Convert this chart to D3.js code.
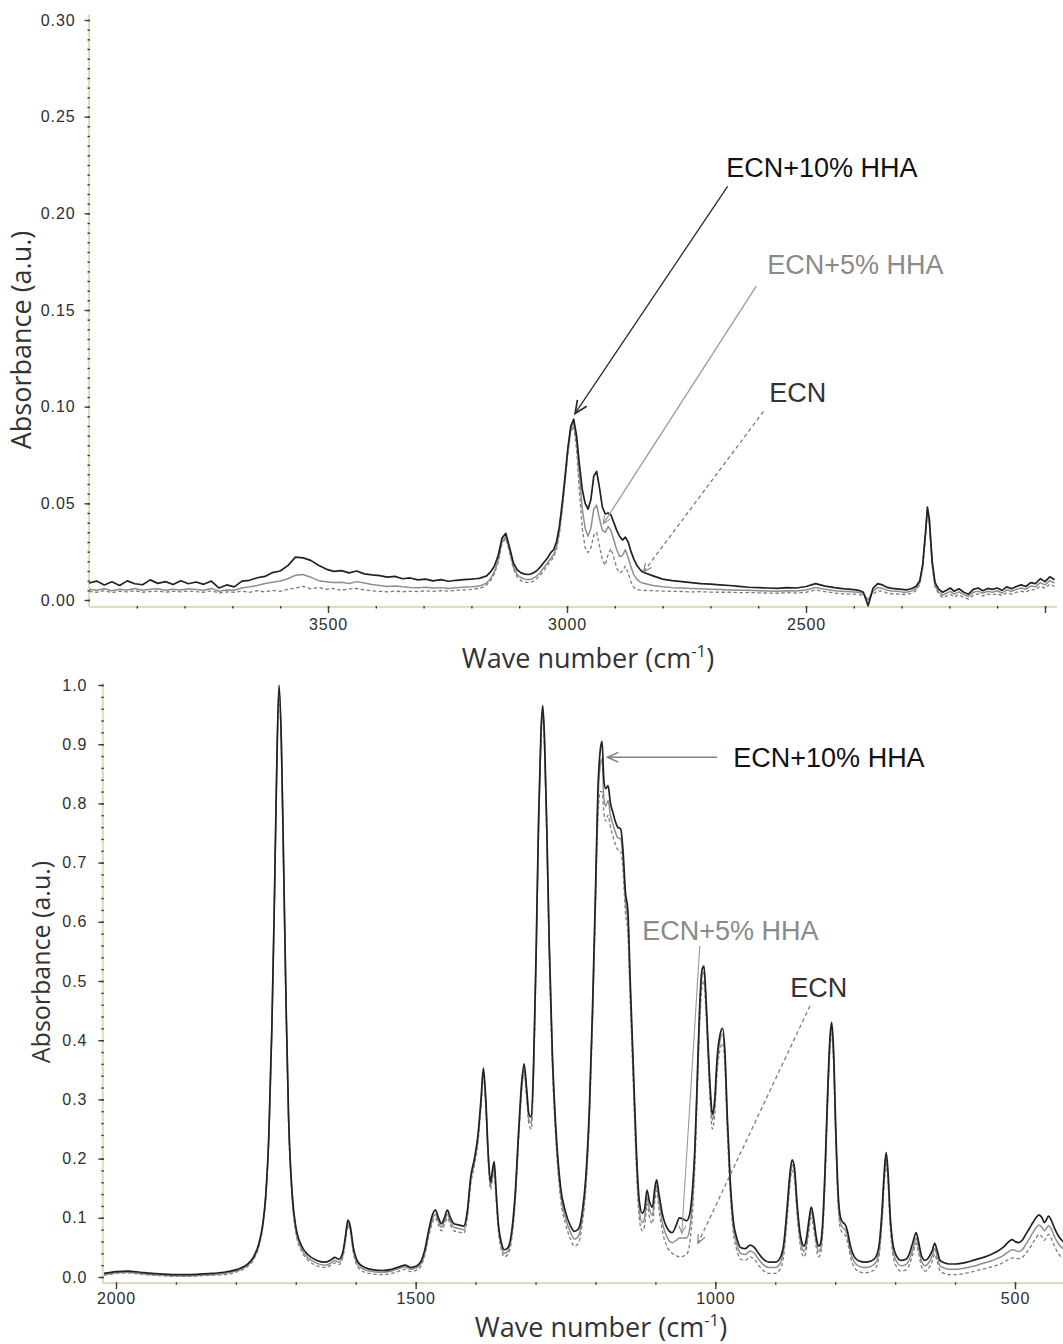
<!DOCTYPE html>
<html>
<head>
<meta charset="utf-8">
<script src="https://cdn.jsdelivr.net/npm/d3@7"></script>
<style>
  html, body { margin: 0; padding: 0; background: #fff; }
  svg { display: block; }
</style>
</head>
<body>
<svg id="chart" width="1063" height="1344"></svg>
<script>
// ---------------------------------------------------------------
// FTIR absorbance spectra: ECN, ECN+5% HHA, ECN+10% HHA
// ---------------------------------------------------------------
const seriesNames = ["ECN+10% HHA", "ECN+5% HHA", "ECN"];

// ---- upper panel: 4000–2000 cm-1 ----
const topWn = [
  4000, 3984, 3968, 3952, 3936, 3920, 3904, 3888, 3872, 3856,
  3840, 3824, 3808, 3792, 3776, 3760, 3744, 3728, 3712, 3696,
  3680, 3664, 3648, 3632, 3616, 3600, 3584, 3568, 3552, 3536,
  3520, 3504, 3488, 3472, 3456, 3440, 3424, 3408, 3392, 3376,
  3360, 3344, 3328, 3312, 3296, 3280, 3264, 3248, 3232, 3216,
  3200,
  3192, 3184, 3176, 3168, 3160, 3152, 3144, 3136, 3128, 3120,
  3112, 3104, 3096, 3088, 3080, 3072, 3064, 3056, 3048, 3040,
  3034, 3028, 3022, 3016, 3010, 3004, 2998, 2992, 2986, 2980,
  2974, 2968, 2962, 2956, 2950, 2944, 2938, 2932, 2926, 2920,
  2914, 2908, 2902, 2896, 2890, 2884, 2878, 2872, 2866, 2860,
  2854, 2848, 2842,
  2820, 2800, 2780, 2760, 2740, 2720, 2700, 2680, 2660, 2640,
  2620, 2600, 2580, 2560, 2540, 2520, 2500, 2480, 2460, 2440,
  2420,
  2410, 2400, 2390, 2380, 2370, 2360, 2350, 2340, 2330, 2320,
  2310, 2300, 2290, 2280, 2270, 2262, 2256, 2250, 2246, 2242,
  2236, 2230, 2222, 2214, 2206, 2198, 2190, 2180, 2170, 2160,
  2150, 2140, 2130, 2120, 2110, 2100, 2090, 2080, 2070, 2060,
  2050, 2040, 2030, 2020, 2010, 2000, 1990, 1980
];

const topEcn10 = [
  .0088, .0098, .0078, .0094, .0075, .0099, .0084, .0079, .0104, .0086,
  .0095, .0080, .0100, .0084, .0093, .0081, .0098, .0062, .0078, .0068,
  .0098, .0102, .0115, .0122, .0142, .0150, .0178, .0222, .0218, .0205,
  .0180, .0160, .0148, .0152, .0140, .0150, .0135, .0130, .0126, .0118,
  .0122, .0110, .0114, .0104, .0108, .0099, .0105, .0097, .0102, .0105,
  .0108,
  .0110, .0112, .0118, .0125, .0145, .0175, .0230, .0320, .0345, .0270,
  .0190, .0155, .0140, .0134, .0132, .0138, .0150, .0170, .0195, .0220,
  .0245, .0260, .0300, .0380, .0500, .0640, .0790, .0900, .0935, .0850,
  .0700, .0570, .0500, .0470, .0520, .0640, .0665, .0580, .0480, .0445,
  .0450, .0440, .0400, .0360, .0330, .0310, .0325, .0300, .0250, .0210,
  .0180, .0160, .0145,
  .0125, .0108, .0100, .0095, .0090, .0085, .0082, .0078, .0075, .0070,
  .0066, .0064, .0062, .0060, .0064, .0062, .0070, .0085, .0072, .0064,
  .0058,
  .0056, .0054, .0050, .0040, -.0030, .0060, .0085, .0078, .0065, .0060,
  .0058, .0055, .0052, .0058, .0070, .0100, .0180, .0350, .0480, .0420,
  .0200, .0090, .0055, .0040, .0050, .0062, .0045, .0058, .0040, .0030,
  .0055, .0062, .0048, .0060, .0055, .0062, .0050, .0068, .0058, .0070,
  .0078, .0070, .0090, .0085, .0110, .0095, .0120, .0105
];

const topEcn5 = [
  .0055, .0050, .0058, .0048, .0056, .0052, .0060, .0050, .0055, .0058,
  .0050, .0056, .0052, .0058, .0054, .0050, .0060, .0045, .0052, .0050,
  .0062, .0068, .0075, .0085, .0092, .0098, .0110, .0128, .0132, .0118,
  .0100, .0095, .0090, .0092, .0085, .0095, .0088, .0080, .0075, .0070,
  .0072, .0068, .0065, .0064, .0066, .0062, .0064, .0060, .0063, .0066,
  .0068,
  .0070, .0072, .0078, .0088, .0110, .0145, .0205, .0300, .0330, .0255,
  .0170, .0130, .0115, .0108, .0105, .0110, .0122, .0142, .0168, .0195,
  .0215, .0235, .0275, .0355, .0480, .0625, .0775, .0885, .0920, .0820,
  .0640, .0470, .0370, .0330, .0370, .0470, .0490, .0420, .0360, .0350,
  .0380, .0360, .0310, .0260, .0225, .0230, .0260, .0220, .0170, .0130,
  .0108, .0095, .0088,
  .0075, .0068, .0064, .0062, .0060, .0058, .0056, .0054, .0052, .0050,
  .0050, .0048, .0046, .0045, .0048, .0047, .0052, .0065, .0055, .0048,
  .0044,
  .0044, .0042, .0040, .0032, .0000, .0045, .0065, .0060, .0050, .0046,
  .0045, .0042, .0040, .0046, .0058, .0090, .0170, .0340, .0465, .0405,
  .0185, .0075, .0040, .0025, .0035, .0045, .0030, .0042, .0028, .0018,
  .0040, .0046, .0035, .0045, .0040, .0048, .0036, .0052, .0045, .0055,
  .0062, .0056, .0072, .0068, .0090, .0078, .0100, .0088
];

const topEcn = [
  .0045, .0040, .0048, .0038, .0046, .0042, .0048, .0040, .0044, .0046,
  .0040, .0045, .0042, .0047, .0043, .0040, .0048, .0036, .0042, .0040,
  .0045, .0040, .0048, .0042, .0050, .0045, .0055, .0062, .0070, .0058,
  .0065, .0055, .0060, .0050, .0058, .0060, .0052, .0048, .0045, .0042,
  .0046, .0043, .0045, .0044, .0047, .0045, .0048, .0046, .0050, .0052,
  .0055,
  .0058, .0060, .0066, .0078, .0100, .0135, .0195, .0290, .0318, .0245,
  .0160, .0118, .0100, .0092, .0090, .0095, .0108, .0128, .0155, .0182,
  .0200, .0222, .0262, .0340, .0465, .0610, .0760, .0870, .0900, .0780,
  .0560, .0370, .0270, .0245, .0270, .0335, .0350, .0280, .0205, .0180,
  .0235, .0265, .0220, .0165, .0140, .0150, .0175, .0140, .0090, .0065,
  .0055, .0052, .0050,
  .0048, .0046, .0045, .0044, .0042, .0043, .0041, .0040, .0040, .0038,
  .0039, .0037, .0036, .0035, .0038, .0036, .0040, .0052, .0043, .0036,
  .0032,
  .0030, .0030, .0028, .0022, .0005, .0030, .0048, .0045, .0036, .0032,
  .0031, .0030, .0028, .0034, .0048, .0080, .0160, .0330, .0455, .0395,
  .0175, .0065, .0030, .0012, .0020, .0030, .0015, .0028, .0012, .0005,
  .0025, .0032, .0020, .0030, .0026, .0034, .0022, .0038, .0030, .0040,
  .0046, .0040, .0056, .0052, .0072, .0060, .0082, .0070
];

const topXTicks = [3500, 3000, 2500, 2000];
const topYTicks = [0, 0.05, 0.10, 0.15, 0.20, 0.25, 0.30];

// ---- lower panel: 2000–400 cm-1 ----
const bottomWn = [
  2020, 2000, 1980, 1960, 1940, 1920, 1900, 1880, 1860, 1840,
  1820, 1800, 1790, 1780, 1770, 1762, 1755, 1750, 1745, 1740,
  1736, 1732, 1728, 1724, 1720, 1716, 1712, 1706, 1700, 1690,
  1680, 1665, 1650, 1640, 1635, 1628, 1622, 1617, 1613, 1609,
  1604, 1596, 1585, 1570, 1555, 1540, 1525, 1518, 1508, 1500,
  1492, 1485, 1478, 1472, 1467, 1462, 1457, 1452, 1447, 1442,
  1436, 1428, 1420, 1414, 1408, 1402, 1396, 1391, 1387, 1383,
  1379, 1375, 1372, 1369, 1366, 1362, 1357, 1352, 1346, 1340,
  1334, 1328, 1323, 1319, 1315, 1311, 1307, 1303, 1299, 1295,
  1291, 1288, 1285, 1281, 1277, 1272, 1266, 1258, 1250, 1242,
  1235, 1228, 1222, 1216, 1210, 1205, 1200, 1196, 1192, 1189,
  1186, 1183, 1179, 1175, 1171, 1167, 1163, 1158, 1154, 1150,
  1146, 1142, 1137, 1132, 1127, 1122, 1118, 1114, 1110, 1105,
  1101, 1098, 1094, 1088, 1080, 1072, 1065, 1060, 1054, 1048,
  1043, 1038, 1034, 1030, 1026, 1022, 1019, 1016, 1012, 1008,
  1005, 1001,  997,  992,  988,  984,  980,  975,  970,  964,
   958,  950,  942,  935,  928,  920,  910,  900,  892,  886,
   880,  876,  872,  868,  864,  860,  856,  852,  848,  844,
   840,  836,  832,  828,  825,  821,  817,  813,  809,  806,
   803,  799,  795,  791,  787,  783,  779,  774,  768,  760,
   750,  740,  732,  726,  722,  718,  715,  712,  708,  704,
   698,  690,  682,  676,  670,  665,  661,  656,  650,  644,
   638,  634,  630,  625,  618,  610,  600,  590,  580,  570,
   560,  550,  540,  530,  520,  512,  505,  500,  494,  488,
   482,  476,  470,  465,  460,  455,  451,  447,  444,  440,
   434,  428,  420,  412
];

const bottomEcn10 = [
  .006, .009, .010, .008, .006, .005, .004, .004, .005, .006,
  .008, .012, .016, .022, .035, .055, .090, .140, .240, .420,
  .620, .850, 1.00, .900, .680, .450, .270, .140, .085, .052,
  .038, .028, .025, .030, .033, .030, .040, .070, .096, .085,
  .050, .025, .016, .012, .011, .013, .018, .020, .016, .018,
  .025, .045, .080, .105, .113, .100, .090, .100, .113, .100,
  .090, .088, .086, .110, .170, .200, .240, .300, .353, .300,
  .210, .160, .180, .195, .150, .090, .058, .046, .050, .075,
  .140, .250, .330, .360, .320, .275, .270, .370, .550, .770,
  .920, .965, .910, .750, .560, .380, .250, .150, .110, .087,
  .077, .082, .110, .170, .290, .450, .650, .820, .890, .905,
  .840, .825, .830, .800, .785, .770, .760, .757, .720, .650,
  .620, .500, .360, .220, .130, .108, .115, .147, .128, .118,
  .150, .164, .140, .105, .082, .075, .088, .100, .098, .095,
  .105, .150, .220, .340, .460, .520, .525, .480, .390, .310,
  .275, .300, .370, .410, .420, .380, .270, .160, .095, .065,
  .050, .048, .054, .050, .040, .030, .025, .025, .032, .055,
  .120, .170, .198, .185, .130, .085, .060, .052, .065, .095,
  .118, .100, .070, .052, .055, .090, .180, .300, .400, .430,
  .390, .250, .140, .100, .092, .088, .075, .050, .034, .027,
  .025, .027, .034, .060, .110, .180, .210, .180, .100, .058,
  .036, .028, .030, .040, .060, .075, .060, .036, .028, .033,
  .045, .057, .045, .028, .024, .022, .022, .023, .025, .028,
  .031, .034, .038, .043, .050, .058, .063, .060, .058, .062,
  .072, .082, .092, .100, .105, .100, .092, .098, .103, .097,
  .082, .070, .060, .055
];

const bottomEcn5 = [
  .004, .007, .008, .006, .004, .003, .002, .002, .003, .004,
  .006, .010, .014, .020, .032, .052, .087, .137, .237, .417,
  .617, .847, .995, .895, .675, .445, .265, .135, .080, .047,
  .033, .023, .020, .025, .028, .025, .035, .065, .091, .080,
  .045, .020, .012, .009, .008, .010, .015, .017, .013, .015,
  .021, .040, .074, .098, .106, .094, .084, .094, .106, .094,
  .084, .082, .080, .104, .164, .194, .234, .294, .344, .294,
  .204, .154, .172, .187, .142, .083, .052, .040, .044, .068,
  .132, .242, .322, .352, .312, .266, .260, .360, .540, .760,
  .910, .960, .900, .740, .550, .370, .240, .140, .100, .076,
  .064, .070, .100, .160, .280, .440, .640, .800, .865, .875,
  .810, .795, .805, .780, .765, .752, .742, .740, .705, .635,
  .600, .485, .345, .205, .115, .092, .100, .135, .115, .104,
  .140, .155, .128, .090, .066, .058, .062, .066, .066, .066,
  .080, .130, .210, .330, .450, .510, .515, .470, .380, .300,
  .265, .290, .360, .400, .410, .370, .260, .150, .085, .055,
  .040, .038, .044, .040, .030, .021, .016, .016, .023, .046,
  .110, .160, .190, .176, .120, .076, .051, .043, .056, .086,
  .110, .092, .062, .043, .046, .081, .170, .290, .390, .420,
  .380, .240, .130, .090, .083, .079, .066, .041, .025, .018,
  .016, .018, .025, .051, .100, .170, .200, .170, .090, .049,
  .027, .019, .021, .030, .049, .066, .050, .027, .019, .024,
  .036, .048, .036, .019, .015, .013, .013, .014, .016, .018,
  .021, .024, .027, .031, .036, .042, .046, .045, .043, .046,
  .055, .065, .075, .083, .088, .084, .078, .083, .087, .082,
  .068, .057, .048, .044
];

const bottomEcn = [
  .003, .006, .007, .005, .003, .002, .001, .001, .002, .003,
  .004, .008, .012, .018, .030, .050, .085, .135, .235, .415,
  .615, .845, .990, .890, .670, .440, .260, .130, .075, .043,
  .029, .019, .016, .021, .024, .021, .031, .061, .087, .076,
  .041, .016, .008, .005, .004, .006, .011, .013, .009, .011,
  .017, .036, .069, .092, .100, .088, .078, .088, .100, .088,
  .078, .076, .074, .098, .158, .188, .228, .288, .338, .288,
  .198, .148, .165, .180, .135, .077, .046, .034, .038, .062,
  .125, .235, .315, .345, .305, .258, .250, .350, .530, .750,
  .900, .955, .890, .730, .540, .360, .230, .130, .090, .065,
  .052, .058, .090, .150, .270, .430, .620, .770, .820, .820,
  .785, .770, .780, .760, .745, .732, .722, .720, .685, .615,
  .580, .465, .330, .190, .100, .078, .086, .124, .102, .090,
  .128, .146, .114, .076, .050, .040, .036, .034, .035, .038,
  .055, .110, .190, .310, .430, .490, .500, .455, .365, .285,
  .250, .275, .345, .385, .395, .355, .245, .140, .075, .045,
  .030, .028, .034, .030, .020, .011, .006, .006, .013, .036,
  .100, .150, .180, .167, .110, .067, .042, .034, .047, .077,
  .100, .083, .053, .034, .037, .072, .160, .280, .380, .410,
  .370, .230, .120, .080, .074, .070, .057, .032, .016, .009,
  .007, .009, .016, .042, .090, .160, .190, .160, .080, .040,
  .018, .010, .012, .021, .040, .057, .041, .018, .010, .015,
  .027, .039, .027, .010, .006, .004, .004, .005, .007, .009,
  .012, .014, .017, .020, .024, .029, .032, .032, .031, .033,
  .040, .048, .058, .066, .072, .068, .062, .068, .072, .066,
  .052, .040, .032, .028
];

const bottomXTicks = [2000, 1500, 1000, 500];
const bottomYTicks = [0, 0.1, 0.2, 0.3, 0.4, 0.5, 0.6, 0.7, 0.8, 0.9, 1.0];

// ---------------------------------------------------------------
// drawing
// ---------------------------------------------------------------
const svg = d3.select("#chart");
const defs = svg.append("defs");

const TICK_FONT = "'Liberation Sans', Arial, sans-serif";
const TITLE_FONT = "'Open Sans', 'Noto Sans', sans-serif";
const LABEL_FONT = "'Liberation Sans', Arial, sans-serif";
const AXIS_LINE = "#e1ddc2";
const TICK_COLOR = "#3c3c3c";

const seriesStyle = [
  { color: "#222222", width: 1.7, dash: null },       // ECN+10% HHA
  { color: "#8e8e8e", width: 1.5, dash: null },       // ECN+5% HHA
  { color: "#7c7c7c", width: 1.3, dash: "3.5,2.5" }   // ECN
];

function arrowMarker(id, color, size) {
  defs.append("marker")
    .attr("id", id)
    .attr("viewBox", "0 0 12 12")
    .attr("refX", 11).attr("refY", 6)
    .attr("markerWidth", size).attr("markerHeight", size)
    .attr("markerUnits", "userSpaceOnUse")
    .attr("orient", "auto")
    .append("path")
    .attr("d", "M1,1.5 L11,6 L1,10.5")
    .attr("fill", "none")
    .attr("stroke", color)
    .attr("stroke-width", 1.4);
}
arrowMarker("head-dark", "#2a2a2a", 15);
arrowMarker("head-grey", "#808080", 13);
arrowMarker("head-grey-small", "#8e8e8e", 9);
arrowMarker("head-dash-small", "#7c7c7c", 10);

function drawPanel(p) {
  const g = svg.append("g");
  const { x, y } = p;
  const axisY = y(p.yLo);
  const axisX = x(p.xLo);

  // axis lines
  g.append("line")
    .attr("x1", axisX).attr("x2", x(p.xHi))
    .attr("y1", axisY).attr("y2", axisY)
    .attr("stroke", AXIS_LINE).attr("stroke-width", 2.2);
  g.append("line")
    .attr("x1", axisX).attr("x2", axisX)
    .attr("y1", y(p.yHi)).attr("y2", axisY)
    .attr("stroke", AXIS_LINE).attr("stroke-width", 2.2);

  // x ticks
  const xMinor = g.append("g")
    .attr("transform", `translate(0,${axisY - 1})`)
    .call(d3.axisBottom(x).tickValues(p.xMinor).tickSize(2.5).tickFormat(""));
  const xMajor = g.append("g")
    .attr("transform", `translate(0,${axisY - 1})`)
    .call(d3.axisBottom(x).tickValues(p.xTicks).tickSize(7)
      .tickPadding(p.xPad).tickFormat(p.xFormat));
  // y ticks
  const yMinor = g.append("g")
    .attr("transform", `translate(${axisX + 1},0)`)
    .call(d3.axisLeft(y).tickValues(p.yMinor).tickSize(2.5).tickFormat(""));
  const yMajor = g.append("g")
    .attr("transform", `translate(${axisX + 1},0)`)
    .call(d3.axisLeft(y).tickValues(p.yTicks).tickSize(5.5)
      .tickPadding(p.yPad).tickFormat(p.yFormat));

  [xMinor, xMajor, yMinor, yMajor].forEach(a => {
    a.select(".domain").remove();
    a.selectAll(".tick line").attr("stroke", TICK_COLOR).attr("stroke-width", 1.4);
    a.selectAll(".tick text")
      .attr("fill", "#2e2e2e")
      .style("font-family", TICK_FONT)
      .style("font-size", "16px")
      .style("letter-spacing", "0.9px");
  });

  // spectra (drawn back to front: ECN, ECN+5%, ECN+10%)
  const line = d3.line()
    .x(d => x(d[0]))
    .y(d => y(d[1]))
    .curve(p.curve);
  [2, 1, 0].forEach(i => {
    const st = seriesStyle[i];
    g.append("path")
      .datum(d3.zip(p.wn, p.series[i]))
      .attr("fill", "none")
      .attr("stroke", st.color)
      .attr("stroke-width", st.width)
      .attr("stroke-linejoin", "round")
      .attr("stroke-dasharray", st.dash)
      .attr("d", line);
  });

  // axis titles
  const xt = g.append("text")
    .attr("x", p.xTitle[0]).attr("y", p.xTitle[1])
    .attr("text-anchor", "middle")
    .attr("fill", "#333")
    .style("font-family", TITLE_FONT)
    .style("font-size", p.xTitleSize + "px")
    .text("Wave number (cm");
  xt.append("tspan")
    .attr("baseline-shift", "super")
    .style("font-size", "62%")
    .text("-1");
  xt.append("tspan").text(")");

  g.append("text")
    .attr("transform", `translate(${p.yTitle[0]},${p.yTitle[1]}) rotate(-90)`)
    .attr("text-anchor", "middle")
    .attr("fill", "#333")
    .style("font-family", TITLE_FONT)
    .style("font-size", p.yTitleSize + "px")
    .text("Absorbance (a.u.)");

  // series call-outs
  p.notes.forEach(n => {
    g.append("line")
      .attr("x1", x(n.from[0])).attr("y1", y(n.from[1]))
      .attr("x2", x(n.to[0])).attr("y2", y(n.to[1]))
      .attr("stroke", n.lineColor)
      .attr("stroke-width", n.lineWidth)
      .attr("stroke-dasharray", n.dash || null)
      .attr("marker-end", n.head ? `url(#${n.head})` : null);
    g.append("text")
      .attr("x", x(n.at[0])).attr("y", y(n.at[1]))
      .attr("fill", n.textColor)
      .style("font-family", LABEL_FONT)
      .style("font-size", "27px")
      .text(n.label);
  });
}

// upper panel
drawPanel({
  x: d3.scaleLinear().domain([4000, 2000]).range([89, 1045]),
  y: d3.scaleLinear().domain([0, 0.30]).range([600, 20]),
  xLo: 4000, xHi: 1975, yLo: -0.0036, yHi: 0.303,
  wn: topWn,
  series: [topEcn10, topEcn5, topEcn],
  curve: d3.curveLinear,
  xTicks: topXTicks,
  xMinor: d3.range(3900, 1999, -100),
  xFormat: d => (d === 2000 ? "" : d),
  xPad: 6,
  yTicks: topYTicks,
  yMinor: d3.range(0, 0.3001, 0.005),
  yFormat: d3.format(".2f"),
  yPad: 9,
  xTitle: [588, 668], xTitleSize: 27,
  yTitle: [31, 340], yTitleSize: 27,
  notes: [
    { label: seriesNames[0], at: [2667, 0.219], textColor: "#111",
      from: [2664, 0.214], to: [2983, 0.0965],
      lineColor: "#2a2a2a", lineWidth: 1.3, head: "head-dark" },
    { label: seriesNames[1], at: [2581, 0.1687], textColor: "#8a8a8a",
      from: [2604, 0.1624], to: [2924, 0.0395],
      lineColor: "#9a9a9a", lineWidth: 1.3, head: "head-grey-small" },
    { label: seriesNames[2], at: [2577, 0.1024], textColor: "#333",
      from: [2589, 0.0975], to: [2840, 0.0145],
      lineColor: "#7c7c7c", lineWidth: 1.3, dash: "4,3", head: "head-dash-small" }
  ]
});

// lower panel
drawPanel({
  x: d3.scaleLinear().domain([2000, 500]).range([116, 1015]),
  y: d3.scaleLinear().domain([0, 1.0]).range([1277, 685]),
  xLo: 2022, xHi: 412, yLo: -0.0105, yHi: 1.004,
  wn: bottomWn,
  series: [bottomEcn10, bottomEcn5, bottomEcn],
  curve: d3.curveMonotoneX,
  xTicks: bottomXTicks,
  xMinor: d3.range(1900, 419, -100),
  xFormat: d => d,
  xPad: 3,
  yTicks: bottomYTicks,
  yMinor: d3.range(0, 1.0001, 0.02),
  yFormat: d3.format(".1f"),
  yPad: 11,
  xTitle: [601, 1337], xTitleSize: 27,
  yTitle: [50, 962], yTitleSize: 25,
  notes: [
    { label: seriesNames[0], at: [970, 0.861], textColor: "#111",
      from: [997, 0.878], to: [1180, 0.878],
      lineColor: "#808080", lineWidth: 1.6, head: "head-grey" },
    { label: seriesNames[1], at: [1122, 0.569], textColor: "#8a8a8a",
      from: [1026, 0.559], to: [1056, 0.074],
      lineColor: "#9a9a9a", lineWidth: 1.1, head: "head-grey-small" },
    { label: seriesNames[2], at: [875, 0.473], textColor: "#333",
      from: [842, 0.458], to: [1029, 0.057],
      lineColor: "#7c7c7c", lineWidth: 1.3, dash: "4,3", head: "head-dash-small" }
  ]
});
</script>
</body>
</html>
